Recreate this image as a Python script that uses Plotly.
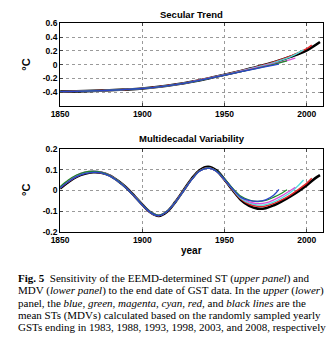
import plotly.graph_objects as go

W, H = 333, 344

# ---- data -------------------------------------------------------------
end_years = [1983, 1988, 1993, 1998, 2003, 2008]
series_names = ["blue", "green", "magenta", "cyan", "red", "black"]
series_colors = ["#2b45c8", "#1f8a2a", "#d94fd9", "#4fdede", "#e0262a", "#000000"]
series_widths = [1.3, 1.3, 1.3, 1.3, 1.5, 2.6]

# Secular trend (°C), sampled every 10 years from 1850, last point at the end year
st_years = [1850, 1860, 1870, 1880, 1890, 1900, 1910, 1920, 1930, 1940, 1950, 1960, 1970, 1980, 1990, 2000]
st_blue = [-0.392, -0.387, -0.38, -0.371, -0.36, -0.346, -0.322, -0.29, -0.25, -0.202, -0.152, -0.102, -0.053, -0.005, 0.008]
st_green = [-0.392, -0.387, -0.38, -0.371, -0.36, -0.346, -0.322, -0.29, -0.25, -0.201, -0.150, -0.100, -0.050, 0.005, 0.055]
st_magenta = [-0.392, -0.387, -0.38, -0.371, -0.36, -0.345, -0.321, -0.289, -0.249, -0.200, -0.148, -0.095, -0.040, 0.015, 0.075, 0.095]
st_cyan = [-0.392, -0.387, -0.38, -0.371, -0.36, -0.345, -0.321, -0.288, -0.248, -0.199, -0.146, -0.091, -0.032, 0.032, 0.115, 0.215]
st_red = [-0.392, -0.387, -0.38, -0.371, -0.36, -0.345, -0.320, -0.288, -0.247, -0.198, -0.145, -0.089, -0.028, 0.040, 0.125, 0.235, 0.285]
st_black = [-0.392, -0.387, -0.38, -0.371, -0.36, -0.345, -0.320, -0.288, -0.248, -0.199, -0.147, -0.091, -0.031, 0.035, 0.115, 0.210, 0.330]

# Multidecadal variability (°C), sampled every 5 years from 1850
mdv_years = [1850, 1855, 1860, 1865, 1870, 1875, 1880, 1885, 1890, 1895, 1900, 1905,
             1910, 1915, 1920, 1925, 1930, 1935, 1940, 1945, 1950, 1955, 1960, 1965,
             1970, 1975, 1980, 1985, 1990, 1995, 2000, 2005]
mdv_blue = [0.012, 0.042, 0.066, 0.081, 0.087, 0.084, 0.070, 0.045, 0.013, -0.027, -0.070, -0.106,
            -0.121, -0.101, -0.057, -0.003, 0.052, 0.093, 0.107, 0.092, 0.052, 0.006, -0.033, -0.048,
            -0.052, -0.045, -0.022, 0.005]
mdv_green = [0.018, 0.050, 0.074, 0.088, 0.092, 0.088, 0.073, 0.047, 0.014, -0.026, -0.068, -0.104,
             -0.119, -0.100, -0.056, -0.002, 0.053, 0.094, 0.108, 0.094, 0.055, 0.010, -0.028, -0.046,
             -0.053, -0.048, -0.032, -0.012, 0.003]
mdv_magenta = [0.016, 0.048, 0.073, 0.088, 0.093, 0.089, 0.074, 0.048, 0.015, -0.025, -0.068, -0.104,
               -0.119, -0.100, -0.056, -0.002, 0.053, 0.094, 0.108, 0.093, 0.053, 0.007, -0.033, -0.055,
               -0.063, -0.060, -0.045, -0.025, 0.000, 0.015]
mdv_cyan = [0.013, 0.044, 0.069, 0.084, 0.089, 0.086, 0.071, 0.046, 0.014, -0.026, -0.069, -0.105,
            -0.120, -0.100, -0.056, -0.002, 0.053, 0.094, 0.108, 0.092, 0.051, 0.004, -0.038, -0.060,
            -0.070, -0.068, -0.055, -0.035, -0.010, 0.025, 0.050]
mdv_red = [0.012, 0.042, 0.067, 0.082, 0.087, 0.085, 0.071, 0.046, 0.014, -0.026, -0.069, -0.106,
           -0.121, -0.101, -0.056, -0.001, 0.054, 0.095, 0.109, 0.092, 0.050, 0.002, -0.042, -0.066,
           -0.076, -0.074, -0.062, -0.044, -0.022, 0.005, 0.035, 0.058]
mdv_black = [0.010, 0.040, 0.065, 0.080, 0.087, 0.085, 0.072, 0.047, 0.015, -0.025, -0.068, -0.105,
             -0.122, -0.102, -0.056, 0.000, 0.056, 0.098, 0.113, 0.096, 0.052, 0.001, -0.046, -0.074,
             -0.087, -0.085, -0.071, -0.051, -0.028, -0.003, 0.025, 0.058, 0.073]

st_values = [st_blue, st_green, st_magenta, st_cyan, st_red, st_black]
mdv_values = [mdv_blue, mdv_green, mdv_magenta, mdv_cyan, mdv_red, mdv_black]

x_ticks = [1850, 1900, 1950, 2000]
st_ticks = [-0.4, -0.2, 0, 0.2, 0.4, 0.6]
st_tick_text = ["-0.4", "-0.2", "0", "0.2", "0.4", "0.6"]
mdv_ticks = [-0.2, -0.1, 0, 0.1, 0.2]
mdv_tick_text = ["-0.2", "-0.1", "0", "0.1", "0.2"]

caption_lines = [
    "<b>Fig. 5</b>  Sensitivity of the EEMD-determined ST (<i>upper panel</i>) and",
    "MDV (<i>lower panel</i>) to the end date of GST data. In the <i>upper</i> (<i>lower</i>)",
    "panel, the <i>blue</i>, <i>green</i>, <i>magenta</i>, <i>cyan</i>, <i>red</i>, and <i>black lines</i> are the",
    "mean STs (MDVs) calculated based on the randomly sampled yearly",
    "GSTs ending in 1983, 1988, 1993, 1998, 2003, and 2008, respectively",
]

# ---- figure -----------------------------------------------------------
fig = go.Figure()


def px_x(p):
    return p / W


def px_y(p):
    return 1 - p / H


def with_end(years, values, end):
    """x positions for a series: the regular samples before its end year, then the end year."""
    xs = [y for y in years if y < end][:len(values) - 1] + [end]
    return xs


# draw black first so the thinner coloured lines sit on top
order = [5, 4, 3, 2, 1, 0]
for i in order:
    xs = with_end(st_years, st_values[i], end_years[i])
    fig.add_trace(go.Scatter(x=xs, y=st_values[i], mode="lines", name=series_names[i],
                             line=dict(color=series_colors[i], width=series_widths[i], shape="spline"),
                             xaxis="x", yaxis="y", showlegend=False))
for i in order:
    xs = with_end(mdv_years, mdv_values[i], end_years[i])
    fig.add_trace(go.Scatter(x=xs, y=mdv_values[i], mode="lines", name=series_names[i],
                             line=dict(color=series_colors[i], width=series_widths[i], shape="spline"),
                             xaxis="x2", yaxis="y2", showlegend=False))

tick_font = dict(family="Liberation Sans", size=8.5, color="#000000", weight="bold")
common_x = dict(range=[1850, 2010], tickvals=x_ticks, ticks="inside", ticklen=3,
                showline=True, mirror="allticks", linecolor="#000000", linewidth=1,
                showgrid=True, gridcolor="#9a9a9a", griddash="dot", gridwidth=1,
                zeroline=False, tickfont=tick_font, domain=[px_x(52.5), px_x(323)])
common_y = dict(ticks="inside", ticklen=3, showline=True, mirror="allticks",
                linecolor="#000000", linewidth=1, showgrid=True, gridcolor="#9a9a9a",
                griddash="dot", gridwidth=1, zeroline=False, tickfont=tick_font)

fig.update_layout(
    width=W, height=H, margin=dict(l=0, r=0, t=0, b=0),
    paper_bgcolor="white", plot_bgcolor="white",
    xaxis=dict(common_x, anchor="y", tickformat="d"),
    yaxis=dict(common_y, range=[-0.6, 0.6], tickvals=st_ticks, ticktext=st_tick_text,
               domain=[px_y(104), px_y(19)], anchor="x"),
    xaxis2=dict(common_x, anchor="y2", tickformat="d"),
    yaxis2=dict(common_y, range=[-0.2, 0.2], tickvals=mdv_ticks, ticktext=mdv_tick_text,
                domain=[px_y(234), px_y(148)], anchor="x2"),
)

bold = dict(family="Liberation Sans", color="#000000")
ann = [
    dict(text="<b>Secular Trend</b>", x=px_x(188), y=px_y(10), font=dict(bold, size=9.5)),
    dict(text="<b>Multidecadal Variability</b>", x=px_x(188), y=px_y(138), font=dict(bold, size=9.5)),
    dict(text="<b>°C</b>", x=px_x(18), y=px_y(62), textangle=-90, font=dict(bold, size=11)),
    dict(text="<b>°C</b>", x=px_x(18), y=px_y(191), textangle=-90, font=dict(bold, size=11)),
    dict(text="<b>year</b>", x=px_x(188), y=px_y(253), font=dict(bold, size=10)),
]
for a in ann:
    fig.add_annotation(xref="paper", yref="paper", showarrow=False,
                       xanchor="center", yanchor="middle", **a)

line_y = [282, 294.5, 307, 319.5, 332]
for text, yy in zip(caption_lines, line_y):
    fig.add_annotation(text=text, xref="paper", yref="paper", x=px_x(7), y=px_y(yy),
                       xanchor="left", yanchor="middle", showarrow=False,
                       font=dict(family="Liberation Serif", size=11.0, color="#000000"))

fig.write_html("out.html")
